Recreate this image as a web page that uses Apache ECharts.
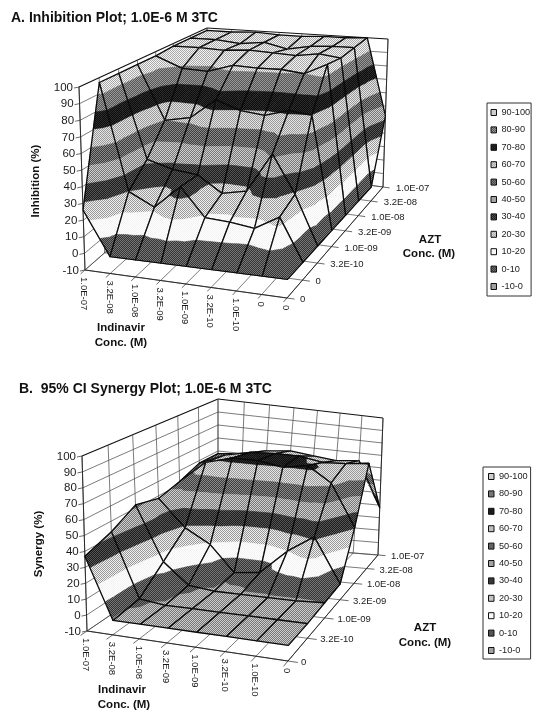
<!DOCTYPE html>
<html>
<head>
<meta charset="utf-8">
<style>html,body{margin:0;background:#fff}#main{width:540px;height:721px}</style>
<script src="https://cdn.jsdelivr.net/npm/echarts@6/dist/echarts.min.js"></script>
</head>
<body>
<div id="main"></div>
<script>
const bandNames = ['90-100','80-90','70-80','60-70','50-60','40-50','30-40','20-30','10-20','0-10','-10-0']
const bandLow = [90,80,70,60,50,40,30,20,10,0,-10]
const zTicks = [-10,0,10,20,30,40,50,60,70,80,90,100]
const indinavirA = ['1.0E-07','3.2E-08','1.0E-08','3.2E-09','1.0E-09','3.2E-10','1.0E-10','0','0']
const aztA = ['0','0','3.2E-10','1.0E-09','3.2E-09','1.0E-08','3.2E-08','1.0E-07']
const indinavirB = ['1.0E-07','3.2E-08','1.0E-08','3.2E-09','1.0E-09','3.2E-10','1.0E-10','0']
const aztB = ['0','3.2E-10','1.0E-09','3.2E-09','1.0E-08','3.2E-08','1.0E-07']

// rows run from the front of the floor (AZT 0) to the back (AZT 1.0E-07)
const inhibition = [
  [26,  0,  0,  0,  0,  0,  0,  0,  0],
  [97, 30, 22, 36, 19, 18, 16, 24,  0],
  [97, 42, 37, 35, 25, 28, 52, 29,  0],
  [97, 60, 63, 76, 70, 68, 72, 70,  0],
  [97, 89, 88, 93, 92, 92, 90, 97,  0],
  [98, 98, 97, 98, 97, 96, 98, 96,  0],
  [98, 98, 96, 98, 94, 97, 98, 98,  0],
  [98, 98, 99, 98, 98, 99, 99, 100, 43]
]
const synergy = [
  [37, -1, -1, -1, -1, -1, -1, -1],
  [43,  1, -1, -1, -1, -1, -1, -1],
  [52, 15,  1, -1, -1, -1, -1,  0],
  [48, 29, 19,  1,  3, 20, 32,  1],
  [52, 68, 73, 73, 70, 73, 62, 31],
  [58, 66, 70, 71, 71, 68, 69, 71],
  [58, 60, 64, 66, 64, 62, 64, 28]
]

const plotA = {
  values: inhibition, xLabels: indinavirA, yLabels: aztA,
  floor: [[85,270],[287,298],[383,187],[207,163]],
  ceil: [[79,87],[293,93],[388,39],[207,28]]
}
const plotB = {
  values: synergy, xLabels: indinavirB, yLabels: aztB,
  floor: [[87,631],[288,661],[378,555],[218,542]],
  ceil: [[82,456],[293,470],[383,418],[218,399]]
}

function makePattern (a, b) {
  const c = document.createElement('canvas')
  c.width = 2
  c.height = 2
  const ctx = c.getContext('2d')
  ctx.fillStyle = a
  ctx.fillRect(0, 0, 2, 2)
  ctx.fillStyle = b
  ctx.fillRect(0, 0, 1, 1)
  ctx.fillRect(1, 1, 1, 1)
  return {image: c, repeat: 'repeat'}
}
const bandFill = [
  makePattern('#f4f4f4', '#a8a8a8'),
  makePattern('#555', '#999'),
  makePattern('#0c0c0c', '#2c2c2c'),
  makePattern('#e4e4e4', '#999'),
  makePattern('#3c3c3c', '#8a8a8a'),
  makePattern('#777', '#cfcfcf'),
  makePattern('#1c1c1c', '#555'),
  makePattern('#f0f0f0', '#999'),
  makePattern('#fff', '#f2f2f2'),
  makePattern('#333', '#777'),
  makePattern('#777', '#ccc')
]

// unit square -> quad, Heckbert's form
function squareToQuad (q) {
  const [p0, p1, p2, p3] = q
  const dx1 = p1[0] - p2[0], dx2 = p3[0] - p2[0], sx = p0[0] - p1[0] + p2[0] - p3[0]
  const dy1 = p1[1] - p2[1], dy2 = p3[1] - p2[1], sy = p0[1] - p1[1] + p2[1] - p3[1]
  const den = dx1 * dy2 - dx2 * dy1
  const g = (sx * dy2 - dx2 * sy) / den
  const h = (dx1 * sy - sx * dy1) / den
  const a = p1[0] - p0[0] + g * p1[0], b = p3[0] - p0[0] + h * p3[0], c = p0[0]
  const d = p1[1] - p0[1] + g * p1[1], e = p3[1] - p0[1] + h * p3[1], f = p0[1]
  return (s, t) => {
    const w = g * s + h * t + 1
    return [(a * s + b * t + c) / w, (d * s + e * t + f) / w]
  }
}

function setupPlot (plot) {
  plot.nx = plot.xLabels.length - 1
  plot.ny = plot.yLabels.length - 1
  const fl = squareToQuad(plot.floor)
  const ce = squareToQuad(plot.ceil)
  plot.project = (u, v, z) => {
    const s = u / plot.nx, t = v / plot.ny, k = (z + 10) / 110
    const a = fl(s, t), b = ce(s, t)
    return [a[0] + (b[0] - a[0]) * k, a[1] + (b[1] - a[1]) * k]
  }
}
setupPlot(plotA)
setupPlot(plotB)

function clipZ (poly, limit, keepAbove) {
  const out = []
  for (let i = 0; i < poly.length; i++) {
    const p = poly[i], q = poly[(i + 1) % poly.length]
    const pIn = keepAbove ? p[2] >= limit : p[2] <= limit
    const qIn = keepAbove ? q[2] >= limit : q[2] <= limit
    if (pIn) out.push(p)
    if (pIn !== qIn) {
      const k = (limit - p[2]) / (q[2] - p[2])
      out.push([p[0] + (q[0] - p[0]) * k, p[1] + (q[1] - p[1]) * k, limit])
    }
  }
  return out
}

function cellRenderer (plot) {
  return (params, api) => {
    const u = api.value(0), v = api.value(1)
    const zz = plot.values
    const a = [u, v, zz[v][u]], b = [u + 1, v, zz[v][u + 1]]
    const c = [u + 1, v + 1, zz[v + 1][u + 1]], d = [u, v + 1, zz[v + 1][u]]
    const m = [u + 0.5, v + 0.5, (a[2] + b[2] + c[2] + d[2]) / 4]
    const toPx = (p) => api.coord(plot.project(p[0], p[1], p[2]))
    const children = []
    // far triangle first
    const tris = [[d, c, m], [a, d, m], [b, c, m], [a, b, m]]
    tris.forEach((tri) => {
      bandLow.forEach((lo, i) => {
        let poly = clipZ(tri, lo, true)
        if (poly.length) poly = clipZ(poly, lo + 10, false)
        if (poly.length < 3) return
        children.push({
          type: 'polygon',
          shape: {points: poly.map(toPx)},
          style: {fill: bandFill[i], stroke: bandFill[i], lineWidth: 0.7}
        })
      })
    })
    children.push({
      type: 'polygon',
      shape: {points: [a, b, c, d].map(toPx)},
      style: {fill: 'none', stroke: '#0a0a0a', lineWidth: 1.3, lineJoin: 'round'}
    })
    return {type: 'group', children}
  }
}

function frameRenderer (plot) {
  return (params, api) => {
    const line = (p, q, w, col) => {
      const a = api.coord(p), b = api.coord(q)
      return {type: 'line', shape: {x1: a[0], y1: a[1], x2: b[0], y2: b[1]}, style: {stroke: col || '#444', lineWidth: w || 0.7}}
    }
    const text = (s, p, opt) => {
      const a = api.coord(p)
      return {
        type: 'text', x: a[0], y: a[1], rotation: opt.rotation || 0,
        style: {text: s, fill: '#1a1a1a', font: opt.font, align: opt.align, verticalAlign: 'middle'}
      }
    }
    const P = plot.project, nx = plot.nx, ny = plot.ny
    const out = []
    zTicks.forEach((z) => {
      const w = z === 100 ? 1.2 : 0.7
      const col = z === 100 ? '#111' : '#444'
      out.push(line(P(0, 0, z), P(0, ny, z), w, col))
      out.push(line(P(0, ny, z), P(nx, ny, z), w, col))
      const t = P(0, 0, z)
      out.push(line(t, [t[0] - 5, t[1] + 1], 0.8))
      out.push(text(String(z), [t[0] - 6, t[1] + 0.5], {font: '11.5px "Liberation Sans"', align: 'right'}))
    })
    for (let i = 0; i <= nx; i++) {
      out.push(line(P(i, ny, -10), P(i, ny, 100)))
      out.push(line(P(i, 0, -10), P(i, ny, -10)))
      const t = P(i, -0.22, -10)
      out.push(line(P(i, 0, -10), t, 0.8))
      const f = P(i, 0, -10)
      out.push(text(plot.xLabels[i], [f[0] - 1, f[1] + 7], {font: '9.5px "Liberation Sans"', align: 'left', rotation: -Math.PI / 2}))
    }
    for (let j = 0; j <= ny; j++) {
      out.push(line(P(0, j, -10), P(0, j, 100)))
      out.push(line(P(0, j, -10), P(nx, j, -10)))
      const t = P(nx + 0.3, j, -10)
      out.push(line(P(nx, j, -10), t, 0.8))
      const f = P(nx, j, -10)
      out.push(text(plot.yLabels[j], [f[0] + 13, f[1] + 1.5], {font: '9.5px "Liberation Sans"', align: 'left'}))
    }
    out.push(line(P(0, 0, -10), P(0, 0, 100), 0.9, '#222'))
    out.push(line(P(nx, 0, -10), P(nx, ny, -10), 0.9, '#222'))
    out.push(line(P(0, 0, -10), P(nx, 0, -10), 0.9, '#222'))
    out.push(line(P(nx, ny, -10), P(nx, ny, 100), 0.9, '#222'))
    return {type: 'group', children: out}
  }
}

function cellData (plot) {
  const list = []
  for (let v = plot.ny - 1; v >= 0; v--) {
    for (let u = 0; u < plot.nx; u++) list.push([u, v])
  }
  return list
}

function plotSeries (plot) {
  return [
    {type: 'custom', silent: true, clip: false, animation: false, encode: {x: 0, y: 1}, data: [[0, 0]], renderItem: frameRenderer(plot)},
    {type: 'custom', silent: true, clip: false, animation: false, encode: {x: 0, y: 1}, data: cellData(plot), renderItem: cellRenderer(plot)}
  ]
}

const legendSeries = bandNames.map((name, i) => ({
  name, type: 'bar', data: [], itemStyle: {color: bandFill[i]}
}))

const legendBase = {
  orient: 'vertical', data: bandNames, selectedMode: false, icon: 'rect',
  itemWidth: 5.5, itemHeight: 6, itemGap: 8.4,
  borderColor: '#333', borderWidth: 1,
  textStyle: {fontFamily: 'Liberation Sans', fontSize: 9.2, color: '#222'},
  itemStyle: {borderColor: '#111', borderWidth: 1}
}

function axisTitle (s, x, y, rot) {
  return {
    type: 'text', x, y, rotation: rot || 0, silent: true,
    style: {text: s, font: 'bold 11.5px "Liberation Sans"', fill: '#111', align: 'center', verticalAlign: 'middle'}
  }
}

const titleStyle = {fontFamily: 'Liberation Sans', fontSize: 14, fontWeight: 'bold', color: '#111'}
const myChart = echarts.init(document.getElementById('main'), null, {renderer: 'canvas'})
myChart.setOption({
  backgroundColor: '#fff',
  animation: false,
  title: [
    {text: 'A. Inhibition Plot; 1.0E-6 M 3TC', left: 11, top: 11, padding: 0, textStyle: titleStyle},
    {text: 'B.  95% CI Synergy Plot; 1.0E-6 M 3TC', left: 19, top: 382, padding: 0, textStyle: titleStyle}
  ],
  grid: {left: 0, right: 0, top: 0, bottom: 0},
  xAxis: {type: 'value', min: 0, max: 540, show: false},
  yAxis: {type: 'value', min: 0, max: 721, inverse: true, show: false},
  legend: [
    Object.assign({}, legendBase, {left: 487, top: 103, padding: [5, 1, 5, 3.5]}),
    Object.assign({}, legendBase, {left: 483, top: 467, padding: [5, 3, 4, 5]})
  ],
  graphic: [
    axisTitle('Inhibition (%)', 36, 181, Math.PI / 2),
    axisTitle('Indinavir', 121, 328),
    axisTitle('Conc. (M)', 121, 343),
    axisTitle('AZT', 430, 240),
    axisTitle('Conc. (M)', 429, 254),
    axisTitle('Synergy (%)', 39, 544, Math.PI / 2),
    axisTitle('Indinavir', 122, 690),
    axisTitle('Conc. (M)', 124, 705),
    axisTitle('AZT', 425, 628),
    axisTitle('Conc. (M)', 425, 643)
  ],
  series: plotSeries(plotA).concat(plotSeries(plotB), legendSeries)
})
</script>
</body>
</html>
